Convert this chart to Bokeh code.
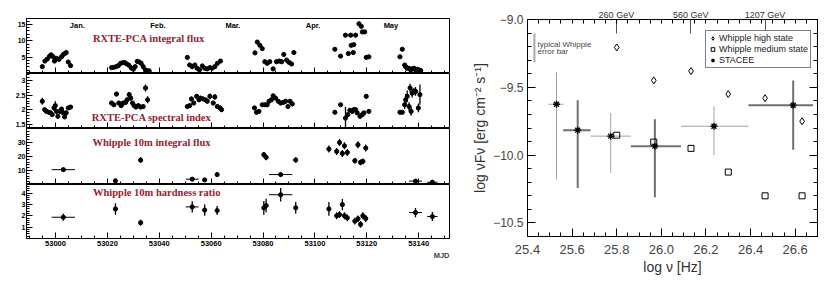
import math
from bokeh.plotting import figure
from bokeh.layouts import row, column
from bokeh.models import (ColumnDataSource, FixedTicker, LinearAxis, Range1d, Label,
                          Legend, LegendItem, Title, CustomJSTickFormatter, CustomLabelingPolicy)
from bokeh.embed import file_html
from bokeh.resources import INLINE

# ---------------- left panel data (MJD) ----------------
rxte_flux_mjd = [52994.9, 52995.9, 52996.8, 52997.7, 52998.3, 52999.1, 52999.6, 53000.4, 53001.3, 53002.3,
                 53003.0, 53003.6, 53004.1, 53004.9, 53005.8,
                 53021.6, 53022.5, 53023.4, 53024.2, 53025.1, 53026.0, 53026.7, 53027.5, 53028.3, 53029.2,
                 53030.0, 53030.7, 53031.5, 53032.3, 53033.0, 53033.8, 53034.6, 53035.4, 53036.1,
                 53050.8, 53051.7, 53052.7, 53053.7, 53054.6, 53055.5, 53056.6, 53057.5, 53058.5, 53059.5,
                 53060.4, 53061.4, 53062.4, 53063.6,
                 53076.9, 53077.8, 53078.8, 53079.7, 53080.7, 53081.6, 53082.6, 53083.9, 53085.2, 53086.3,
                 53087.2, 53088.0, 53089.1, 53090.0, 53091.0, 53091.9,
                 53107.7, 53109.9, 53111.8, 53112.9, 53113.8, 53114.0, 53115.0, 53114.8, 53115.7, 53117.0,
                 53117.9, 53118.3, 53119.2, 53119.8, 53120.8,
                 53132.8, 53133.7, 53134.6, 53135.0, 53135.6, 53136.3, 53136.9, 53137.6, 53138.2, 53138.8,
                 53139.5, 53140.1, 53140.8]
rxte_flux = [2.1, 3.8, 4.4, 5.3, 5.7, 5.1, 3.8, 4.6, 4.3, 5.1,
             5.8, 6.1, 6.4, 3.5, 2.4,
             1.8, 1.9, 2.1, 2.4, 3.1, 3.3, 3.3, 2.9, 2.5, 1.7,
             1.3, 2.1, 3.7, 3.5, 3.1, 2.1, 1.1, 0.8, 0.8,
             4.9, 2.6, 2.1, 2.6, 1.6, 1.1, 2.3, 1.6, 1.4, 1.8,
             1.6, 2.1, 3.1, 3.8,
             6.3, 9.6, 8.6, 7.6, 3.6, 3.1, 3.6, 1.4, 3.6, 3.8,
             3.6, 5.8, 4.1, 3.4, 2.9, 6.4,
             7.4, 5.3, 11.7, 6.1, 11.7, 8.6, 8.8, 6.4, 11.7, 15.2,
             14.4, 12.7, 12.7, 4.9, 5.1,
             5.1, 7.4, 2.6, 2.1, 1.6, 1.6, 1.1, 1.4, 1.6, 1.1,
             1.3, 1.1, 0.9]

rxte_idx_mjd = [52994.9, 52995.8, 52996.5, 52997.4, 52998.1, 52998.7, 52999.4, 52999.9, 53000.4, 53000.9,
                53001.7, 53002.3, 53003.0, 53003.5, 53004.1, 53004.9, 53005.8,
                53021.6, 53022.5, 53023.5, 53024.4, 53025.3, 53026.1, 53027.0, 53027.6, 53028.4, 53029.0,
                53029.7, 53030.3, 53031.0, 53031.9, 53032.8, 53033.8, 53034.7, 53035.5,
                53050.8, 53051.7, 53052.4, 53053.3, 53054.4, 53055.3, 53055.9, 53056.9, 53057.8, 53058.5,
                53059.5, 53060.8, 53061.4, 53062.4, 53063.4, 53064.0,
                53076.7, 53077.5, 53078.4, 53079.7, 53080.7, 53081.6, 53082.3, 53083.2, 53083.9, 53084.8,
                53085.9, 53086.8, 53087.8, 53088.7, 53089.6, 53090.4, 53091.3,
                53107.7, 53109.9, 53111.8, 53112.7, 53113.5, 53114.4, 53115.0, 53115.7, 53116.3, 53117.4,
                53118.3, 53118.9, 53119.8, 53120.8,
                53132.8, 53133.7, 53134.6, 53135.0, 53135.6, 53136.3, 53136.7, 53137.1, 53137.5, 53138.2,
                53138.8, 53139.9, 53140.5]
rxte_idx = [2.29, 2.00, 1.94, 1.91, 1.89, 1.83, 2.06, 2.14, 1.94, 1.77,
            1.94, 2.02, 1.89, 1.75, 1.89, 2.06, 2.09,
            2.23, 2.17, 2.54, 2.23, 2.14, 2.23, 2.25, 2.34, 2.52, 2.40,
            2.23, 2.14, 2.09, 2.14, 2.09, 2.11, 2.75, 2.34,
            2.11, 2.14, 2.37, 2.23, 2.46, 2.34, 2.40, 2.37, 2.34, 2.29,
            2.46, 2.23, 2.44, 2.11, 2.06, 2.00,
            2.06, 1.91, 1.94, 2.17, 2.17, 2.17, 2.29, 2.34, 2.48, 2.40,
            2.29, 2.23, 2.25, 2.29, 2.11, 2.29, 2.20,
            1.91, 2.17, 1.71, 1.83, 1.98, 1.94, 2.00, 2.00, 1.89, 1.77,
            1.83, 1.89, 2.46, 1.94,
            1.91, 1.91, 2.17, 2.34, 2.46, 2.11, 2.75, 1.94, 2.57, 2.63,
            2.63, 2.06, 2.52]
rxte_idx_err = [0.12, 0.06, 0.06, 0.06, 0.06, 0.06, 0.10, 0.15, 0.07, 0.07,
                0.07, 0.07, 0.07, 0.07, 0.07, 0.06, 0.06,
                0.07, 0.06, 0.08, 0.06, 0.06, 0.06, 0.06, 0.08, 0.08, 0.08,
                0.06, 0.06, 0.06, 0.06, 0.06, 0.06, 0.12, 0.12,
                0.06, 0.06, 0.08, 0.06, 0.08, 0.06, 0.06, 0.06, 0.06, 0.06,
                0.10, 0.06, 0.10, 0.06, 0.06, 0.06,
                0.05, 0.05, 0.05, 0.05, 0.05, 0.05, 0.05, 0.05, 0.05, 0.05,
                0.05, 0.05, 0.05, 0.05, 0.07, 0.05, 0.05,
                0.05, 0.05, 0.38, 0.06, 0.06, 0.06, 0.06, 0.06, 0.06, 0.06,
                0.06, 0.06, 0.08, 0.06,
                0.05, 0.05, 0.15, 0.20, 0.20, 0.15, 0.15, 0.15, 0.15, 0.12,
                0.15, 0.15, 0.35]

whip_mjd = [53003.0, 53023.1, 53032.8, 53052.7, 53057.5, 53062.3, 53080.3, 53081.2, 53086.8, 53092.6,
            53105.4, 53108.4, 53109.5, 53110.6, 53111.4, 53112.5, 53115.4, 53116.6, 53117.6, 53118.5,
            53119.6, 53138.8, 53145.3]
whip_mjd_err = [4.5, 0, 0, 2.5, 0, 0, 0, 0, 4.5, 0,
                0, 0, 0, 0, 0, 0, 0, 0, 0, 0,
                0, 2.5, 2.0]
whip_flux = [10.6, 2.6, 17.4, 3.8, 3.3, 7.1, 21.3, 19.4, 7.1, 17.5,
             25.3, 23.6, 30.0, 22.2, 27.6, 22.9, 17.0, 28.4, 15.8, 16.5,
             26.0, 2.4, 1.6]
whip_flux_err = [0.8, 0.8, 2.0, 0.6, 0.6, 1.0, 2.0, 2.0, 1.0, 2.0,
                 2.5, 2.5, 2.5, 2.5, 2.5, 2.5, 2.0, 2.5, 2.0, 2.0,
                 2.5, 0.6, 0.6]
whip_hr = [1.87, 2.60, 1.39, 2.78, 2.50, 2.46, 2.70, 2.90, 3.85, 2.70,
           2.60, 2.00, 2.10, 2.98, 2.00, 1.82, 1.53, 1.73, 1.24, 2.00,
           1.76, 2.28, 1.93]
whip_hr_err = [0.3, 0.5, 0.25, 0.5, 0.5, 0.4, 0.6, 0.6, 0.6, 0.5,
               0.6, 0.3, 0.3, 0.5, 0.3, 0.3, 0.3, 0.3, 0.3, 0.3,
               0.3, 0.4, 0.4]

month_names = ["Jan.", "Feb.", "Mar.", "Apr.", "May"]
month_start_mjd = [53005, 53036, 53065, 53096, 53126]
mjd_ticks = [53000, 53020, 53040, 53060, 53080, 53100, 53120, 53140]

# ---------------- right panel data (log nu) ----------------
stacee_x = [25.530, 25.625, 25.773, 25.971, 26.236, 26.591]
stacee_y = [-9.625, -9.816, -9.860, -9.934, -9.787, -9.632]
stacee_xlo = [25.494, 25.560, 25.683, 25.863, 26.088, 26.390]
stacee_xhi = [25.561, 25.683, 25.863, 26.088, 26.390, 26.680]
stacee_ylo = [-10.18, -10.243, -10.13, -10.31, -10.00, -9.96]
stacee_yhi = [-9.39, -9.596, -9.69, -9.735, -9.64, -9.45]
stacee_bold = [False, True, False, True, False, True]

whip_sed_x = [25.800, 25.966, 26.133, 26.300, 26.465, 26.631]
whip_high = [-9.206, -9.449, -9.380, -9.550, -9.580, -9.750]
whip_medium = [-9.853, -9.904, -9.950, -10.125, -10.300, -10.300]

gev_energies = [260, 560, 1207]
typ_err_x = [25.431]
typ_err_lo = [-9.316]
typ_err_hi = [-9.103]

RED = "#9b1a30"
TICKFONT = "Liberation Sans"
HIDE_LABELS = CustomLabelingPolicy(code="for (const i of indices) { indices.unset(i) } return indices")

# ---------------- left panels ----------------
xr = Range1d(52988.8, 53151.9)
minor_x = list(range(52985, 53156, 5))


def style_axis(a, tin=5, mtin=3):
    a.major_tick_in = tin
    a.major_tick_out = 0
    a.minor_tick_in = mtin
    a.minor_tick_out = 0
    a.axis_line_color = "black"
    a.major_tick_line_color = "black"
    a.minor_tick_line_color = "black"


def hide_labels(a):
    a.major_label_policy = HIDE_LABELS
    a.major_label_text_font_size = "0px"
    a.major_label_standoff = 0


def make_left(height, top, bottom, yr, yt, ymt, ylabel, title, title_xy, label_size="6.5px", show_x=False):
    p = figure(width=460, height=height, x_range=xr, y_range=Range1d(*yr),
               output_backend="svg", toolbar_location=None,
               min_border_left=26, min_border_right=11, min_border_top=top, min_border_bottom=bottom)
    p.grid.visible = False
    p.outline_line_color = "black"
    p.background_fill_color = "white"
    p.border_fill_color = "white"
    xa = p.xaxis[0]
    xa.ticker = FixedTicker(ticks=mjd_ticks, minor_ticks=minor_x)
    style_axis(xa, 6, 3)
    if show_x:
        xa.major_label_text_font = TICKFONT
        xa.major_label_text_font_style = "bold"
        xa.major_label_text_font_size = "7.5px"
        xa.major_label_text_color = "black"
        xa.major_label_standoff = 2
    else:
        hide_labels(xa)
    ya = p.yaxis[0]
    ya.ticker = FixedTicker(ticks=yt, minor_ticks=ymt)
    ya.formatter = CustomJSTickFormatter(code="return String(tick);")
    style_axis(ya, 6, 3)
    ya.major_label_text_font = TICKFONT
    ya.major_label_text_font_style = "bold"
    ya.major_label_text_font_size = "7px"
    ya.major_label_text_color = "black"
    ya.major_label_standoff = 1
    p.add_layout(Label(x=-16, x_units="screen", y=(yr[0] + yr[1]) / 2, text=ylabel,
                       angle=math.pi / 2, text_align="center", text_baseline="middle",
                       text_font=TICKFONT, text_font_size=label_size, text_color="black"))
    p.add_layout(Label(x=title_xy[0], y=title_xy[1], text=title, text_align="center",
                       text_baseline="middle", text_font="Liberation Serif", text_font_style="bold",
                       text_font_size="10.5px", text_color=RED))
    return p


p1 = make_left(73, 18, 0, (0, 16.8), [5, 10, 15], list(range(0, 17)),
               "Iₓ(10⁻¹⁰erg cm⁻²s⁻¹)", "RXTE-PCA integral flux", (53036, 10.8), "6px")
p1.scatter(rxte_flux_mjd, rxte_flux, marker="circle", size=4.2, color="black")
for name, m in zip(month_names, month_start_mjd):
    p1.add_layout(Label(x=m + 0.5, y=14.7, text=name, text_align="left", text_baseline="middle",
                        text_font=TICKFONT, text_font_style="bold", text_font_size="7.5px",
                        text_color="black"))

p2 = make_left(55, 0, 0, (1.35, 3.25), [1.5, 2, 2.5, 3], [round(1.4 + 0.1 * i, 2) for i in range(19)],
               "Index, α", "RXTE-PCA spectral index", (53037, 1.72), "6.5px")
src2 = ColumnDataSource(dict(x=rxte_idx_mjd, y=rxte_idx,
                             lo=[v - e for v, e in zip(rxte_idx, rxte_idx_err)],
                             hi=[v + e for v, e in zip(rxte_idx, rxte_idx_err)]))
p2.segment(x0="x", y0="lo", x1="x", y1="hi", source=src2, line_color="black", line_width=1.3)
p2.scatter("x", "y", source=src2, marker="circle", size=4.2, color="black")

p3 = make_left(56, 0, 0, (0, 40), [10, 20, 30], list(range(0, 41, 2)),
               "Iₜₑᵥ(10⁻¹¹cm⁻²s⁻¹)", "Whipple 10m integral flux", (53037, 29.8), "6px")
src3 = ColumnDataSource(dict(x=whip_mjd, y=whip_flux,
                             xlo=[v - e for v, e in zip(whip_mjd, whip_mjd_err)],
                             xhi=[v + e for v, e in zip(whip_mjd, whip_mjd_err)],
                             lo=[v - e for v, e in zip(whip_flux, whip_flux_err)],
                             hi=[v + e for v, e in zip(whip_flux, whip_flux_err)]))
p3.segment(x0="x", y0="lo", x1="x", y1="hi", source=src3, line_color="black", line_width=1.3)
p3.segment(x0="xlo", y0="y", x1="xhi", y1="y", source=src3, line_color="black", line_width=1)
p3.scatter("x", "y", source=src3, marker="circle", size=4.2, color="black")

p4 = make_left(101, 0, 47, (0, 4.75), [1, 2, 3, 4], [round(0.2 * i, 2) for i in range(24)],
               "HRₜₑᵥ", "Whipple 10m hardness ratio", (53039, 4.05), "9.5px", show_x=True)
src4 = ColumnDataSource(dict(x=whip_mjd, y=whip_hr,
                             xlo=[v - e for v, e in zip(whip_mjd, whip_mjd_err)],
                             xhi=[v + e for v, e in zip(whip_mjd, whip_mjd_err)],
                             lo=[v - e for v, e in zip(whip_hr, whip_hr_err)],
                             hi=[v + e for v, e in zip(whip_hr, whip_hr_err)]))
p4.segment(x0="x", y0="lo", x1="x", y1="hi", source=src4, line_color="black", line_width=1.3)
p4.segment(x0="xlo", y0="y", x1="xhi", y1="y", source=src4, line_color="black", line_width=1)
p4.scatter("x", "y", source=src4, marker="circle", size=4.2, color="black")
p4.add_layout(Title(text="MJD", align="right", text_font=TICKFONT, text_font_style="bold",
                    text_font_size="7.5px", standoff=0), "below")

left = column(p1, p2, p3, p4, spacing=0)

# ---------------- right panel ----------------
pr = figure(width=369, height=285, x_range=Range1d(25.4, 26.7), y_range=Range1d(-10.6, -9.0),
            output_backend="svg", toolbar_location=None,
            min_border_left=67, min_border_right=12, min_border_top=19, min_border_bottom=49)
pr.grid.visible = False
pr.outline_line_color = "black"
GRAYTXT = "#444444"
SEDFONT = "Liberation Sans"

major_nu = [25.4, 25.6, 25.8, 26.0, 26.2, 26.4, 26.6]
minor_nu = [round(25.4 + 0.05 * i, 2) for i in range(27)]
major_f = [-10.5, -10.0, -9.5, -9.0]
minor_f = [round(-10.6 + 0.1 * i, 1) for i in range(17)]

bx = pr.xaxis[0]
bx.ticker = FixedTicker(ticks=major_nu, minor_ticks=minor_nu)
bx.formatter = CustomJSTickFormatter(code="return tick.toFixed(1);")
style_axis(bx, 8, 4)
bx.major_label_text_font = SEDFONT
bx.major_label_text_font_size = "13px"
bx.major_label_text_color = GRAYTXT
bx.major_label_standoff = 8
bx.axis_label = "log ν [Hz]"
bx.axis_label_text_font = SEDFONT
bx.axis_label_text_font_size = "14px"
bx.axis_label_text_font_style = "normal"
bx.axis_label_text_color = "#333333"
bx.axis_label_standoff = 2

ly = pr.yaxis[0]
ly.ticker = FixedTicker(ticks=major_f, minor_ticks=minor_f)
ly.formatter = CustomJSTickFormatter(code="return (tick < 0 ? '\u2212' : '') + Math.abs(tick).toFixed(1);")
style_axis(ly, 8, 4)
ly.major_label_text_font = SEDFONT
ly.major_label_text_font_size = "12px"
ly.major_label_text_color = GRAYTXT
ly.major_label_standoff = 4
ly.axis_label = "log νFν [erg cm⁻² s⁻¹]"
ly.axis_label_text_font = SEDFONT
ly.axis_label_text_font_size = "14px"
ly.axis_label_text_font_style = "normal"
ly.axis_label_text_color = "#333333"
ly.axis_label_standoff = 2

ry = LinearAxis(ticker=FixedTicker(ticks=major_f, minor_ticks=minor_f))
style_axis(ry, 8, 4)
hide_labels(ry)
pr.add_layout(ry, "right")

gev_pos = [math.log10(e * 2.418e23) for e in gev_energies]
tx = LinearAxis(ticker=FixedTicker(ticks=gev_pos, minor_ticks=minor_nu))
style_axis(tx, 14, 4)
tx.major_tick_line_color = "#555555"
tx.major_label_overrides = {gp: f"{e} GeV" for gp, e in zip(gev_pos, gev_energies)}
tx.major_label_text_font = SEDFONT
tx.major_label_text_font_size = "9px"
tx.major_label_text_color = "#333333"
tx.major_label_standoff = 0
pr.add_layout(tx, "above")

# typical error bar
pr.segment(x0=typ_err_x, y0=typ_err_lo, x1=typ_err_x, y1=typ_err_hi, line_color="#aaaaaa", line_width=2)
pr.add_layout(Label(x=25.445, y=-9.184, text="typical Whipple", text_baseline="middle",
                    text_font=SEDFONT, text_font_size="8px", text_color="#444444"))
pr.add_layout(Label(x=25.445, y=-9.236, text="error bar", text_baseline="middle",
                    text_font=SEDFONT, text_font_size="8px", text_color="#444444"))

# STACEE error bars
thin = [i for i, b in enumerate(stacee_bold) if not b]
thick = [i for i, b in enumerate(stacee_bold) if b]
for idxs, col, lw in ((thin, "#a0a0a0", 1), (thick, "#707070", 2)):
    s = ColumnDataSource(dict(x=[stacee_x[i] for i in idxs], y=[stacee_y[i] for i in idxs],
                              xlo=[stacee_xlo[i] for i in idxs], xhi=[stacee_xhi[i] for i in idxs],
                              ylo=[stacee_ylo[i] for i in idxs], yhi=[stacee_yhi[i] for i in idxs]))
    pr.segment(x0="x", y0="ylo", x1="x", y1="yhi", source=s, line_color=col, line_width=lw)
    pr.segment(x0="xlo", y0="y", x1="xhi", y1="y", source=s, line_color=col, line_width=lw)

r_high = pr.scatter(whip_sed_x, whip_high, marker="diamond", size=7, fill_color=None,
                    line_color="black", line_width=1)
r_med = pr.scatter(whip_sed_x, whip_medium, marker="square", size=6, fill_color=None,
                   line_color="black", line_width=1)
r_st = pr.scatter(stacee_x, stacee_y, marker="asterisk", size=7, line_color="black", line_width=1.3)

legend = Legend(items=[LegendItem(label="Whipple high state", renderers=[r_high]),
                       LegendItem(label="Whipple medium state", renderers=[r_med]),
                       LegendItem(label="STACEE", renderers=[r_st])],
                location=(178, 168), orientation="vertical")
legend.border_line_color = "black"
legend.border_line_width = 1
legend.background_fill_color = "white"
legend.background_fill_alpha = 1
legend.label_text_font = SEDFONT
legend.label_text_font_size = "9px"
legend.label_text_color = "#222222"
legend.glyph_width = 9
legend.glyph_height = 10
legend.label_height = 10
legend.label_standoff = 2
legend.spacing = 1
legend.padding = 2
legend.margin = 0
pr.add_layout(legend, "center")

layout = row(left, pr, spacing=0)

open("out.html", "w").write(file_html(layout, INLINE))
